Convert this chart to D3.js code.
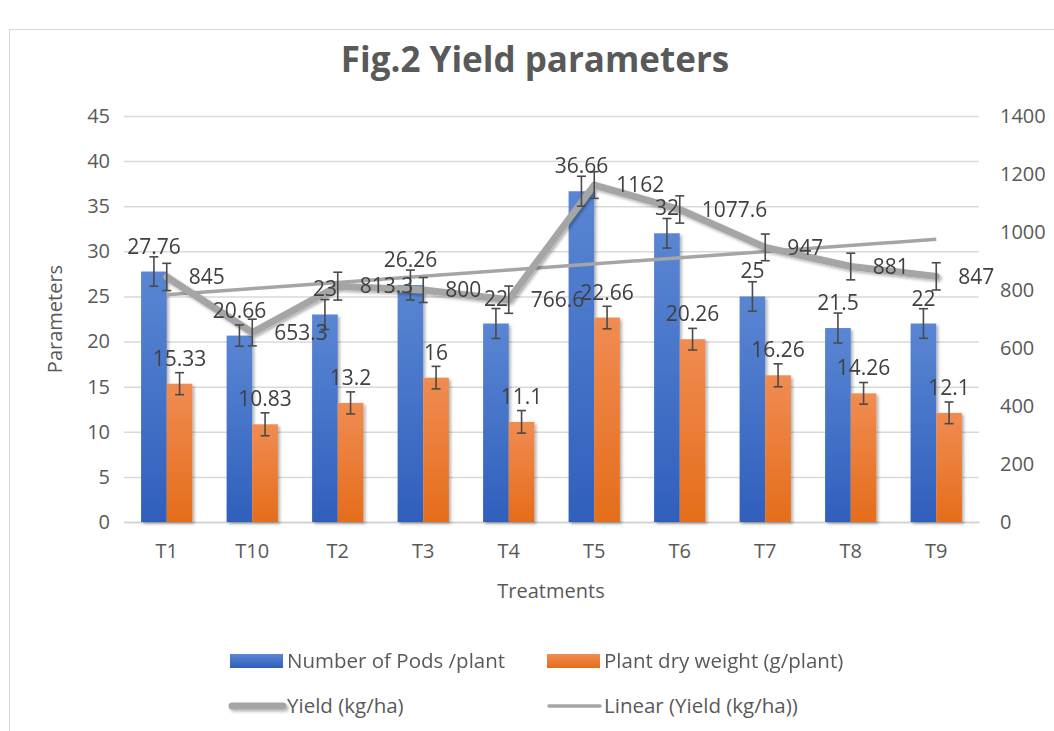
<!DOCTYPE html>
<html>
<head>
<meta charset="utf-8">
<script src="https://cdn.jsdelivr.net/npm/d3@7"></script>
<style>
  body { margin: 0; background: #fff; }
  svg { display: block; font-family: "Open Sans", sans-serif; }
</style>
</head>
<body>
<div id="chart"></div>
<script>
// Data
const treatments = ["T1", "T10", "T2", "T3", "T4", "T5", "T6", "T7", "T8", "T9"];
const pods = [27.76, 20.66, 23, 26.26, 22, 36.66, 32, 25, 21.5, 22];
const dryWeight = [15.33, 10.83, 13.2, 16, 11.1, 22.66, 20.26, 16.26, 14.26, 12.1];
const yieldKg = [845, 653.3, 813.3, 800, 766.6, 1162, 1077.6, 947, 881, 847];
const podsErr = [1.63, 1.18, 1.66, 1.66, 1.66, 1.66, 1.64, 1.63, 1.66, 1.64];
const dryErr = [1.22, 1.27, 1.22, 1.25, 1.25, 1.25, 1.2, 1.27, 1.2, 1.2];
const yieldErr = [47, 46, 48, 43, 47, 46, 47, 46, 46, 47];
const leftTicks = [0, 5, 10, 15, 20, 25, 30, 35, 40, 45];
const rightTicks = [0, 200, 400, 600, 800, 1000, 1200, 1400];

const W = 1054, H = 731;
const plot = { left: 124, right: 979, top: 116, bottom: 522 };
const textColor = "#595959", labelColor = "#404040";
const fs = 20;

const svg = d3.select("#chart").append("svg")
  .attr("width", W)
  .attr("height", H);

const defs = svg.append("defs");
function grad(id, top, bottom) {
  const g = defs.append("linearGradient").attr("id", id)
    .attr("x1", 0).attr("y1", 0).attr("x2", 0).attr("y2", 1);
  g.append("stop").attr("offset", "0%").attr("stop-color", top);
  g.append("stop").attr("offset", "100%").attr("stop-color", bottom);
}
grad("blueGrad", "#5a86d3", "#2f5fbc");
grad("orangeGrad", "#f08c52", "#e56d1b");
const shadow = defs.append("filter").attr("id", "shadow")
  .attr("filterUnits", "userSpaceOnUse")
  .attr("x", 0).attr("y", 0).attr("width", W).attr("height", H);
shadow.append("feDropShadow").attr("dx", 2).attr("dy", 2)
  .attr("stdDeviation", 1.8).attr("flood-color", "#000").attr("flood-opacity", 0.3);

// chart border
svg.append("rect")
  .attr("x", 9.5).attr("y", 29.5)
  .attr("width", 1060).attr("height", 720)
  .attr("fill", "none").attr("stroke", "#d9d9d9");

// title
svg.append("text")
  .attr("x", 535).attr("y", 72)
  .attr("text-anchor", "middle")
  .attr("font-size", 35).attr("font-weight", "bold")
  .attr("fill", textColor)
  .text("Fig.2 Yield parameters");

// scales
const x0 = d3.scaleBand().domain(treatments)
  .range([plot.left, plot.right]).paddingInner(0.4).paddingOuter(0.2);
const series = ["pods", "dry"];
const x1 = d3.scaleBand().domain(series).range([0, x0.bandwidth()]);
const y = d3.scaleLinear().domain([0, 45]).range([plot.bottom, plot.top]);
const y2 = d3.scaleLinear().domain([0, 1400]).range([plot.bottom, plot.top]);
const cx = t => x0(t) + x0.bandwidth() / 2;

// gridlines
const grid = svg.append("g")
  .attr("transform", `translate(${plot.left},0)`)
  .call(d3.axisLeft(y).tickValues(leftTicks).tickSize(-(plot.right - plot.left)).tickFormat(""));
grid.select(".domain").remove();
grid.selectAll("line").attr("stroke", "#d9d9d9").attr("stroke-width", 1.5);

// left axis labels
const yAxis = svg.append("g")
  .attr("transform", `translate(${plot.left},0)`)
  .call(d3.axisLeft(y).tickValues(leftTicks).tickSize(0).tickPadding(14));
yAxis.select(".domain").remove();
yAxis.selectAll("text").attr("font-size", fs).attr("fill", textColor)
  .attr("font-family", "Open Sans");

// right axis labels
const y2Axis = svg.append("g")
  .attr("transform", `translate(${plot.right},0)`)
  .call(d3.axisRight(y2).tickValues(rightTicks).tickFormat(d3.format("d")).tickSize(0).tickPadding(21));
y2Axis.select(".domain").remove();
y2Axis.selectAll("text").attr("font-size", fs).attr("fill", textColor)
  .attr("font-family", "Open Sans");

// x axis labels
const xAxis = svg.append("g")
  .attr("transform", `translate(0,${plot.bottom})`)
  .call(d3.axisBottom(x0).tickSize(0).tickPadding(22));
xAxis.select(".domain").attr("stroke", "#d0d0d0").attr("stroke-width", 1.5);
xAxis.selectAll("text").attr("font-size", fs).attr("fill", textColor)
  .attr("font-family", "Open Sans");

// axis titles
svg.append("text")
  .attr("x", 551).attr("y", 598)
  .attr("text-anchor", "middle").attr("font-size", fs).attr("fill", textColor)
  .text("Treatments");
svg.append("text")
  .attr("transform", `translate(62,${(plot.top + plot.bottom) / 2}) rotate(-90)`)
  .attr("text-anchor", "middle").attr("font-size", fs).attr("fill", textColor)
  .text("Parameters");

// bars
const rows = treatments.map((t, i) => ({
  t,
  vals: [
    { key: "pods", value: pods[i], err: podsErr[i], fill: "url(#blueGrad)" },
    { key: "dry", value: dryWeight[i], err: dryErr[i], fill: "url(#orangeGrad)" }
  ]
}));

const barG = svg.append("g").attr("filter", "url(#shadow)");
barG.selectAll("g")
  .data(rows)
  .join("g")
  .attr("transform", d => `translate(${x0(d.t)},0)`)
  .selectAll("rect")
  .data(d => d.vals)
  .join("rect")
  .attr("x", d => x1(d.key))
  .attr("y", d => y(d.value))
  .attr("width", x1.bandwidth())
  .attr("height", d => plot.bottom - y(d.value))
  .attr("fill", d => d.fill);

// linear trend of yield (least squares over category index)
const n = yieldKg.length;
const xs = d3.range(1, n + 1);
const mx = d3.mean(xs), my = d3.mean(yieldKg);
const slope = d3.sum(xs, (v, i) => (v - mx) * (yieldKg[i] - my)) / d3.sum(xs, v => (v - mx) ** 2);
const trend = xs.map(v => my + slope * (v - mx));

const lineGen = d3.line().x((d, i) => cx(treatments[i])).y(d => y2(d));

svg.append("path")
  .datum([trend[0], trend[n - 1]])
  .attr("d", d3.line().x((d, i) => cx(treatments[i === 0 ? 0 : n - 1])).y(d => y2(d)))
  .attr("fill", "none").attr("stroke", "#a5a5a5").attr("stroke-width", 3.5);

svg.append("path")
  .datum(yieldKg)
  .attr("d", lineGen)
  .attr("fill", "none").attr("stroke", "#a5a5a5").attr("stroke-width", 7)
  .attr("stroke-linejoin", "round").attr("stroke-linecap", "round")
  .attr("filter", "url(#shadow)");

// error bars
const errs = [];
rows.forEach(r => r.vals.forEach(v => {
  errs.push({ x: x0(r.t) + x1(v.key) + x1.bandwidth() / 2, y0: y(v.value - v.err), y1: y(v.value + v.err) });
}));
yieldKg.forEach((v, i) => {
  errs.push({ x: cx(treatments[i]), y0: y2(v - yieldErr[i]), y1: y2(v + yieldErr[i]) });
});
const eg = svg.append("g").attr("stroke", "#4a4a4a").attr("stroke-width", 1.6);
const cap = 4.5;
eg.selectAll("g").data(errs).join("g").each(function (d) {
  const g = d3.select(this);
  g.append("line").attr("x1", d.x).attr("x2", d.x).attr("y1", d.y0).attr("y2", d.y1);
  g.append("line").attr("x1", d.x - cap).attr("x2", d.x + cap).attr("y1", d.y0).attr("y2", d.y0);
  g.append("line").attr("x1", d.x - cap).attr("x2", d.x + cap).attr("y1", d.y1).attr("y2", d.y1);
});

// data labels
const labelG = svg.append("g").attr("font-size", 21).attr("fill", labelColor);
rows.forEach(r => r.vals.forEach(v => {
  labelG.append("text")
    .attr("x", x0(r.t) + x1(v.key) + x1.bandwidth() / 2)
    .attr("y", y(v.value) - 18)
    .attr("text-anchor", "middle")
    .text(v.value);
}));
yieldKg.forEach((v, i) => {
  labelG.append("text")
    .attr("x", cx(treatments[i]) + 22)
    .attr("y", y2(v))
    .attr("dy", "0.35em")
    .text(v);
});

// legend
const legend = svg.append("g").attr("font-size", 20.5).attr("fill", textColor);
const legendItems = [
  { label: "Number of Pods /plant", type: "rect", fill: "url(#blueGrad)", x: 230, y: 661 },
  { label: "Plant dry weight (g/plant)", type: "rect", fill: "url(#orangeGrad)", x: 547, y: 661 },
  { label: "Yield (kg/ha)", type: "thick", x: 230, y: 706 },
  { label: "Linear (Yield (kg/ha))", type: "thin", x: 547, y: 706 }
];
legendItems.forEach(d => {
  if (d.type === "rect") {
    legend.append("rect").attr("x", d.x).attr("y", d.y - 7).attr("width", 53).attr("height", 14)
      .attr("fill", d.fill);
  } else {
    legend.append("line").attr("x1", d.x + 2).attr("x2", d.x + 53).attr("y1", d.y).attr("y2", d.y)
      .attr("stroke", "#a5a5a5").attr("stroke-width", d.type === "thick" ? 7 : 3.5)
      .attr("stroke-linecap", "round")
      .attr("filter", d.type === "thick" ? "url(#shadow)" : null);
  }
  legend.append("text").attr("x", d.x + 57).attr("y", d.y).attr("dy", "0.35em").text(d.label);
});
</script>
</body>
</html>
